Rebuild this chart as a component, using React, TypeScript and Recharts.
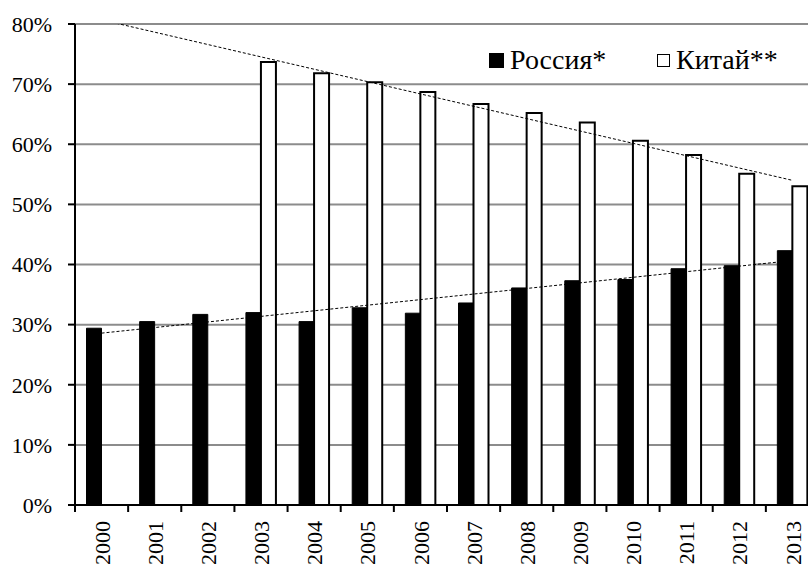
import React from 'react';
import { ComposedChart, Bar, Line, XAxis, YAxis, CartesianGrid, Legend } from 'recharts';

const years = ['2000', '2001', '2002', '2003', '2004', '2005', '2006', '2007', '2008', '2009', '2010', '2011', '2012', '2013'];
const russia = [29.4, 30.5, 31.7, 32.0, 30.5, 32.8, 31.9, 33.6, 36.1, 37.3, 37.5, 39.3, 39.8, 42.3];
const china: (number | null)[] = [null, null, null, 73.7, 71.8, 70.3, 68.7, 66.7, 65.2, 63.6, 60.6, 58.2, 55.1, 53.0];
const yTicks = [0, 10, 20, 30, 40, 50, 60, 70, 80];
const seriesNames = ['Россия*', 'Китай**'];

// Linear least-squares trend over category index (as Excel's linear trendline)
function trend(values: (number | null)[]): number[] {
  const pts = values.map((v, i) => [i, v] as [number, number | null]).filter((p) => p[1] != null) as [number, number][];
  const n = pts.length;
  const mx = pts.reduce((s, p) => s + p[0], 0) / n;
  const my = pts.reduce((s, p) => s + p[1], 0) / n;
  const sxy = pts.reduce((s, p) => s + (p[0] - mx) * (p[1] - my), 0);
  const sxx = pts.reduce((s, p) => s + (p[0] - mx) * (p[0] - mx), 0);
  const k = sxy / sxx;
  return values.map((_, i) => my + k * (i - mx));
}

const rusTrend = trend(russia);
const chinaTrend = trend(china);

const data = years.map((y, i) => ({
  year: y,
  russia: russia[i],
  china: china[i],
  rusTrend: rusTrend[i],
  chinaTrend: chinaTrend[i],
}));

const FONT = '"Liberation Serif", "Times New Roman", serif';

const XTick = (props: any) => {
  const { x, y, payload } = props;
  const half = payload && typeof payload.offset === 'number' && payload.offset > 0 ? payload.offset : 26.6;
  return (
    <g>
      <line x1={x - half} x2={x - half} y1={y} y2={y + 7} stroke="#000" strokeWidth={2} />
      <text
        x={x}
        y={y + 16}
        transform={`rotate(-90, ${x}, ${y + 16})`}
        textAnchor="end"
        dy="0.37em"
        fontFamily={FONT}
        fontSize={22}
        fill="#000"
      >
        {payload.value}
      </text>
    </g>
  );
};

const LegendContent = () => (
  <div style={{ position: 'relative', width: 320, height: 40, fontFamily: FONT, fontSize: 28, color: '#000' }}>
    <div style={{ position: 'absolute', left: 1, top: 8, width: 15, height: 15, background: '#000' }} />
    <div style={{ position: 'absolute', left: 22, top: -1, lineHeight: '32px', whiteSpace: 'nowrap' }}>{seriesNames[0]}</div>
    <div style={{ position: 'absolute', left: 169, top: 9, width: 11, height: 11, border: '1.5px solid #000', background: '#fff' }} />
    <div style={{ position: 'absolute', left: 188, top: -1, lineHeight: '32px', whiteSpace: 'nowrap' }}>{seriesNames[1]}</div>
  </div>
);

export default function App() {
  return (
    <div style={{ position: 'absolute', left: 0, top: 0, width: 808, height: 567, overflow: 'hidden', background: '#fff' }}>
      <ComposedChart
        width={830}
        height={567}
        data={data}
        margin={{ top: 24, right: 11, bottom: 0, left: 0 }}
        barCategoryGap={11.5}
        barGap={0}
      >
        <CartesianGrid vertical={false} stroke="#8c8c8c" strokeWidth={2} />
        <XAxis
          dataKey="year"
          height={62}
          tickSize={0}
          tickMargin={0}
          tickLine={false}
          axisLine={{ stroke: '#000', strokeWidth: 2 }}
          tick={<XTick />}
          interval={0}
        />
        <YAxis
          width={75}
          domain={[0, 80]}
          ticks={yTicks}
          allowDataOverflow
          tickFormatter={(v: number) => `${v}%`}
          tickSize={7}
          tickMargin={16}
          tickLine={{ stroke: '#000', strokeWidth: 2 }}
          axisLine={{ stroke: '#000', strokeWidth: 2 }}
          tick={{ fontFamily: FONT, fontSize: 22, fill: '#000' }}
          interval={0}
        />
        <Legend
          layout="vertical"
          align="center"
          verticalAlign="middle"
          content={<LegendContent />}
          wrapperStyle={{ position: 'absolute', left: 488, top: 45, width: 320, height: 40 }}
        />
        <Bar dataKey="russia" name={seriesNames[0]} fill="#000" stroke="#000" strokeWidth={1} isAnimationActive={false} />
        <Bar dataKey="china" name={seriesNames[1]} fill="#fff" stroke="#000" strokeWidth={2} isAnimationActive={false} />
        <Line
          dataKey="rusTrend"
          stroke="#000"
          strokeWidth={1}
          strokeDasharray="3 2"
          dot={false}
          activeDot={false}
          legendType="none"
          isAnimationActive={false}
        />
        <Line
          dataKey="chinaTrend"
          stroke="#000"
          strokeWidth={1}
          strokeDasharray="3 2"
          dot={false}
          activeDot={false}
          legendType="none"
          isAnimationActive={false}
        />
      </ComposedChart>
    </div>
  );
}
